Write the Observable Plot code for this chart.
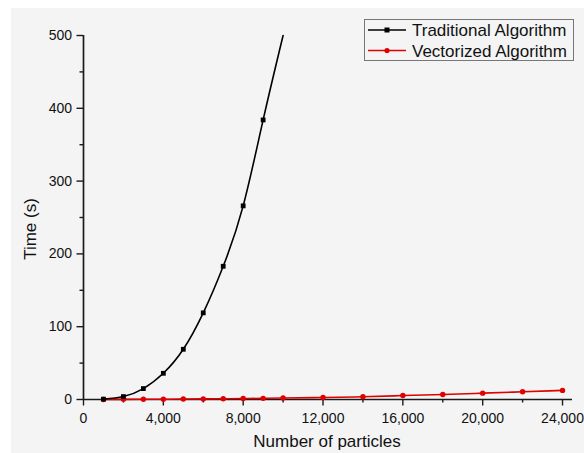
<!DOCTYPE html>
<html><head><meta charset="utf-8">
<script src="https://cdn.jsdelivr.net/npm/d3@7"></script>
<script src="https://cdn.jsdelivr.net/npm/@observablehq/plot@0.6"></script>
<style>
html,body{margin:0;padding:0;background:#fff;}
#chart{position:relative;width:584px;height:453px;}
</style></head><body><div id="chart"></div>
<script>
// Data
const tradParticles = [1000, 2000, 3000, 4000, 5000, 6000, 7000, 8000, 9000, 10000];
const tradTime      = [0.5, 4, 15, 36, 69, 119, 183, 266, 384, 500];
const vecParticles  = [1000, 2000, 3000, 4000, 5000, 6000, 7000, 8000, 9000, 10000, 12000, 14000, 16000, 18000, 20000, 22000, 24000];
const vecTime       = [0.1, 0.2, 0.3, 0.4, 0.6, 0.8, 1.0, 1.3, 1.6, 2.0, 2.7, 3.7, 5.4, 6.9, 8.7, 10.6, 12.5];
const xTicks = [0, 4000, 8000, 12000, 16000, 20000, 24000];
const xMinor = [2000, 6000, 10000, 14000, 18000, 22000];
const yTicks = [0, 100, 200, 300, 400, 500];
const yMinor = [50, 150, 250, 350, 450];
const seriesNames = ["Traditional Algorithm", "Vectorized Algorithm"];
const seriesColors = ["#000000", "#e00000"];
const xTitle = "Number of particles";
const yTitle = "Time (s)";

const trad = tradParticles.map((n, i) => ({n, t: tradTime[i]}));
const vec = vecParticles.map((n, i) => ({n, t: vecTime[i]}));
const tradMarkers = trad.filter(d => d.t < 500);

const font = "Arial, 'Liberation Sans', sans-serif";
const axisColor = "#1a1a1a";
const fmt = d3.format(",");

const plot = Plot.plot({
  width: 584, height: 453,
  marginLeft: 83, marginRight: 12, marginTop: 35, marginBottom: 54,
  style: {fontFamily: font, background: "transparent", overflow: "visible", color: "#111"},
  x: {domain: [0, 24500]},
  y: {domain: [0, 500]},
  marks: [
    Plot.axisX(xMinor, {tickSize: 3.5, tickFormat: () => "", stroke: axisColor, strokeWidth: 1.4, strokeOpacity: 1, label: null}),
    Plot.axisX(xTicks, {tickSize: 6.5, tickFormat: () => "", stroke: axisColor, strokeWidth: 1.4, strokeOpacity: 1, label: null}),
    Plot.axisY(yMinor, {tickSize: 3.5, tickFormat: () => "", stroke: axisColor, strokeWidth: 1.4, strokeOpacity: 1, label: null}),
    Plot.axisY(yTicks, {tickSize: 6.5, tickFormat: () => "", stroke: axisColor, strokeWidth: 1.4, strokeOpacity: 1, label: null}),
    Plot.text(xTicks, {x: d => d, frameAnchor: "bottom", dy: 19.5, text: d => fmt(d), fontSize: 14, fill: "#111", lineAnchor: "middle"}),
    Plot.text(yTicks, {y: d => d, frameAnchor: "left", dx: -11.5, text: d => fmt(d), fontSize: 14, fill: "#111", textAnchor: "end"}),
    Plot.ruleY([0], {stroke: axisColor, strokeWidth: 1.7}),
    Plot.ruleX([0], {stroke: axisColor, strokeWidth: 1.7}),
    Plot.line(vec, {x: "n", y: "t", stroke: seriesColors[1], strokeWidth: 1.6, curve: "natural"}),
    Plot.dot(vec, {x: "n", y: "t", fill: seriesColors[1], r: 2.7}),
    Plot.line(trad, {x: "n", y: "t", stroke: seriesColors[0], strokeWidth: 1.6, curve: "natural"}),
    Plot.dot(tradMarkers, {x: "n", y: "t", fill: seriesColors[0], symbol: "square", r: 2.7})
  ]
});

const svg = d3.select(plot);
svg.insert("rect", ":first-child")
  .attr("x", 11).attr("y", 8).attr("width", 573).attr("height", 445)
  .attr("fill", "#f4f4f4");

svg.append("text")
  .attr("transform", "translate(30,229) rotate(-90)")
  .attr("text-anchor", "middle").attr("dominant-baseline", "central")
  .attr("font-size", 17).attr("font-family", font).attr("fill", "#111")
  .text(yTitle);
svg.append("text")
  .attr("x", 327).attr("y", 446.5)
  .attr("text-anchor", "middle")
  .attr("font-size", 17).attr("font-family", font).attr("fill", "#111")
  .text(xTitle);

// Legend
const lg = svg.append("g");
lg.append("rect").attr("x", 364.5).attr("y", 19.5).attr("width", 209).attr("height", 41)
  .attr("fill", "none").attr("stroke", "#777").attr("stroke-width", 1);
seriesNames.forEach((name, i) => {
  const y = 30 + i * 20.5;
  lg.append("line").attr("x1", 368).attr("x2", 406).attr("y1", y).attr("y2", y)
    .attr("stroke", seriesColors[i]).attr("stroke-width", 1.5);
  if (i === 0) {
    lg.append("rect").attr("x", 384.5).attr("y", y - 2.5).attr("width", 5).attr("height", 5).attr("fill", seriesColors[i]);
  } else {
    lg.append("circle").attr("cx", 387).attr("cy", y).attr("r", 2.6).attr("fill", seriesColors[i]);
  }
  lg.append("text").attr("x", 412).attr("y", y + 6.3)
    .attr("text-anchor", "start")
    .attr("font-size", 17).attr("font-family", font).attr("fill", "#111")
    .text(name);
});

document.getElementById("chart").appendChild(plot);
</script>
</body></html>
